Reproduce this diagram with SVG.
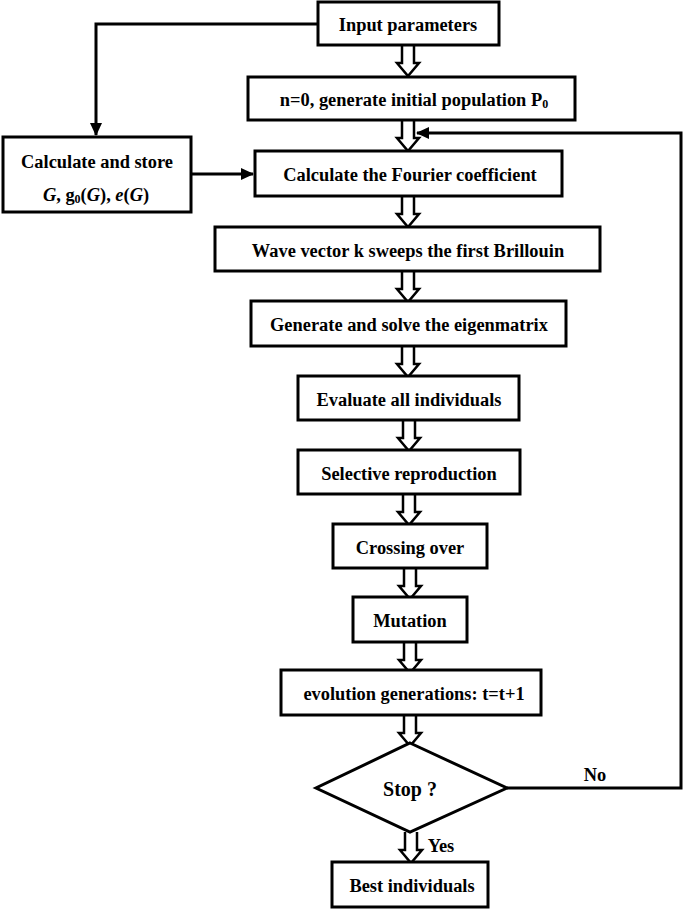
<svg xmlns="http://www.w3.org/2000/svg" width="685" height="909" viewBox="0 0 685 909">
<style>
.box{fill:#fff;stroke:#000;stroke-width:3}
.t{font-family:"Liberation Serif","Times New Roman",serif;font-weight:bold;font-size:18.4px;fill:#000;text-anchor:middle}
.ha{fill:#fff;stroke:#000;stroke-width:2.5;stroke-linejoin:miter}
.ln{fill:none;stroke:#000;stroke-width:3}
.i{font-style:italic}
</style>
<defs>
<marker id="ah" markerUnits="userSpaceOnUse" markerWidth="13" markerHeight="12" refX="12" refY="6" orient="auto">
<path d="M0,0 L13,6 L0,12 z" fill="#000"/>
</marker>
<path id="hollow" d="M-6,0 V18 H-11 L0,31 L11,18 H6 V0" class="ha"/>
</defs>
<rect width="685" height="909" fill="#fff"/>
<g id="connectors">
<path class="ln" d="M318,24 H96 V135" marker-end="url(#ah)"/>
<path class="ln" d="M191,174 H253" marker-end="url(#ah)"/>
<path class="ln" d="M507,788 H681 V133 H417" marker-end="url(#ah)"/>
<use href="#hollow" x="408" y="45"/>
<use href="#hollow" x="408" y="120"/>
<use href="#hollow" x="408" y="196"/>
<use href="#hollow" x="408" y="271"/>
<use href="#hollow" x="408" y="346"/>
<use href="#hollow" x="409" y="420"/>
<use href="#hollow" x="409" y="494"/>
<use href="#hollow" x="410" y="568"/>
<use href="#hollow" x="410" y="642"/>
<use href="#hollow" x="410" y="715"/>
<use href="#hollow" x="411" y="832"/>
<text class="t" x="595" y="781">No</text>
<text class="t" x="441" y="852">Yes</text>
</g>
<g id="input">
<rect class="box" x="318" y="2" width="181" height="43"/>
<text class="t" x="408" y="31">Input parameters</text>
</g>
<g id="init">
<rect class="box" x="248" y="77" width="327" height="43"/>
<text class="t" x="414" y="106">n=0, generate initial population P<tspan font-size="12" dy="2">0</tspan></text>
</g>
<g id="store">
<rect class="box" x="3" y="137" width="188" height="75"/>
<text class="t" x="97" y="168">Calculate and store</text>
<text class="t" x="96" y="201"><tspan class="i">G</tspan>, g<tspan font-size="12" dy="2">0</tspan><tspan dy="-2">(</tspan><tspan class="i">G</tspan>), <tspan class="i">e</tspan>(<tspan class="i">G</tspan>)</text>
</g>
<g id="fourier">
<rect class="box" x="255" y="151" width="307" height="45"/>
<text class="t" x="410" y="181">Calculate the Fourier coefficient</text>
</g>
<g id="wave">
<rect class="box" x="215" y="227" width="385" height="44"/>
<text class="t" x="408" y="257">Wave vector k sweeps the first Brillouin</text>
</g>
<g id="eigen">
<rect class="box" x="251" y="301" width="315" height="45"/>
<text class="t" x="409" y="331">Generate and solve the eigenmatrix</text>
</g>
<g id="evaluate">
<rect class="box" x="298" y="376" width="221" height="44"/>
<text class="t" x="409" y="406">Evaluate all individuals</text>
</g>
<g id="selective">
<rect class="box" x="298" y="450" width="222" height="44"/>
<text class="t" x="409" y="480">Selective reproduction</text>
</g>
<g id="crossing">
<rect class="box" x="333" y="524" width="154" height="44"/>
<text class="t" x="410" y="554">Crossing over</text>
</g>
<g id="mutation">
<rect class="box" x="353" y="597" width="114" height="45"/>
<text class="t" x="410" y="627">Mutation</text>
</g>
<g id="evolution">
<rect class="box" x="281" y="670" width="260" height="45"/>
<text class="t" x="414" y="700">evolution generations: t=t+1</text>
</g>
<g id="stop">
<polygon class="box" points="410,743 507,788 410,832 316,788"/>
<text class="t" x="410" y="796" style="font-size:20px">Stop ?</text>
</g>
<g id="best">
<rect class="box" x="332" y="862" width="156" height="45"/>
<text class="t" x="412" y="892">Best individuals</text>
</g>
</svg>
